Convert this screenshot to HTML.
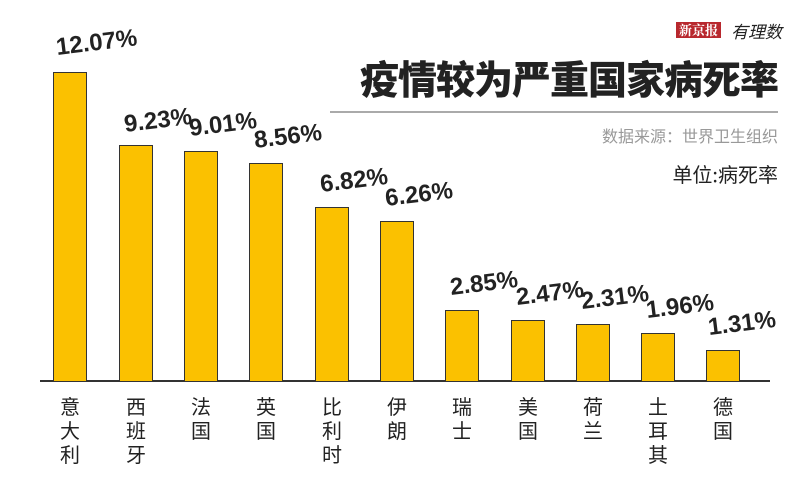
<!DOCTYPE html>
<html><head><meta charset="utf-8"><style>
body{margin:0;width:800px;height:489px;background:#fff;position:relative;overflow:hidden;font-family:"Liberation Sans","Noto Sans CJK SC",sans-serif}
.bar{position:absolute;background:#fbc100;border:1.5px solid #333;border-bottom:none;box-sizing:border-box;width:34px}
.v{position:absolute;font-weight:bold;font-size:24px;color:#222;transform:rotate(-7deg);transform-origin:left bottom;white-space:nowrap}
.x{position:absolute;top:394px;width:34px;text-align:center;font-size:20px;line-height:24px;color:#222;font-family:"Noto Sans CJK SC",sans-serif}
</style></head><body>
<div style="position:absolute;left:676px;top:22px;background:#b8282e;color:#fff;font-family:'Noto Serif CJK SC',serif;font-weight:bold;font-size:13px;line-height:16px;padding:0 3px">新京报</div>
<div style="position:absolute;left:731px;top:18px;font-size:17px;font-style:italic;color:#222;font-family:'Noto Sans CJK SC',sans-serif">有理数</div>
<div style="position:absolute;right:22px;top:50px;font-size:39px;font-weight:900;color:#222;font-family:'Noto Sans CJK SC',sans-serif;letter-spacing:-1px;line-height:56px">疫情较为严重国家病死率</div>
<div style="position:absolute;left:330px;right:22px;top:111px;height:2px;background:#aaa"></div>
<div style="position:absolute;right:22px;top:123px;font-size:16px;color:#999;font-family:'Noto Sans CJK SC',sans-serif">数据来源：世界卫生组织</div>
<div style="position:absolute;right:22px;top:159px;font-size:20px;color:#222;font-family:'Noto Sans CJK SC',sans-serif">单位:病死率</div>
<div style="position:absolute;left:40px;width:730px;top:380px;height:2px;background:#333"></div>
<div class="bar" style="left:53px;top:72px;height:309px"></div>
<div class="bar" style="left:119px;top:145px;height:236px"></div>
<div class="bar" style="left:184px;top:151px;height:230px"></div>
<div class="bar" style="left:249px;top:163px;height:218px"></div>
<div class="bar" style="left:315px;top:207px;height:174px"></div>
<div class="bar" style="left:380px;top:221px;height:160px"></div>
<div class="bar" style="left:445px;top:310px;height:71px"></div>
<div class="bar" style="left:511px;top:320px;height:61px"></div>
<div class="bar" style="left:576px;top:324px;height:57px"></div>
<div class="bar" style="left:641px;top:333px;height:48px"></div>
<div class="bar" style="left:706px;top:350px;height:31px"></div>
<div class="v" style="left:58px;top:34px">12.07%</div>
<div class="v" style="left:126px;top:111px">9.23%</div>
<div class="v" style="left:191px;top:115px">9.01%</div>
<div class="v" style="left:256px;top:127px">8.56%</div>
<div class="v" style="left:322px;top:171px">6.82%</div>
<div class="v" style="left:387px;top:185px">6.26%</div>
<div class="v" style="left:452px;top:274px">2.85%</div>
<div class="v" style="left:518px;top:284px">2.47%</div>
<div class="v" style="left:583px;top:288px">2.31%</div>
<div class="v" style="left:648px;top:297px">1.96%</div>
<div class="v" style="left:710px;top:314px">1.31%</div>
<div class="x" style="left:53px">意<br>大<br>利</div>
<div class="x" style="left:119px">西<br>班<br>牙</div>
<div class="x" style="left:184px">法<br>国</div>
<div class="x" style="left:249px">英<br>国</div>
<div class="x" style="left:315px">比<br>利<br>时</div>
<div class="x" style="left:380px">伊<br>朗</div>
<div class="x" style="left:445px">瑞<br>士</div>
<div class="x" style="left:511px">美<br>国</div>
<div class="x" style="left:576px">荷<br>兰</div>
<div class="x" style="left:641px">土<br>耳<br>其</div>
<div class="x" style="left:706px">德<br>国</div>
</body></html>
